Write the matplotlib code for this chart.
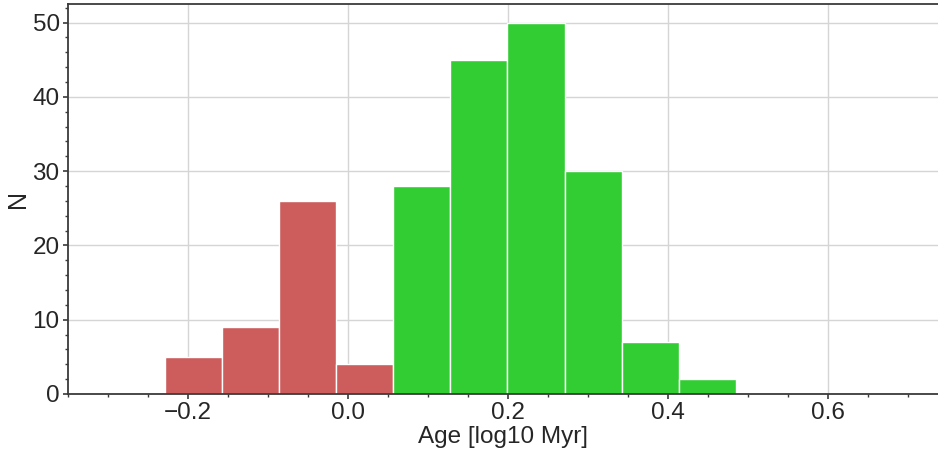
import numpy as np
import matplotlib
matplotlib.use("Agg")
import matplotlib.pyplot as plt
from matplotlib.ticker import MultipleLocator

plt.rcParams['font.family'] = ['Liberation Sans', 'DejaVu Sans']

# Histogram bin edges (log10 Myr) and counts per bin
bin_edges = [-0.229, -0.158, -0.086, -0.015, 0.056, 0.128, 0.199, 0.271, 0.342, 0.414, 0.485]
young_counts = [5, 9, 26, 4]          # first four bins
old_counts = [28, 45, 50, 30, 7, 2]    # remaining six bins

edges = np.array(bin_edges)
widths = np.diff(edges)
n_young = len(young_counts)

fig = plt.figure(figsize=(9.38, 4.51), dpi=100)
ax = fig.add_axes([0.0725, 0.1264, 0.9275, 0.8646])

ax.bar(edges[:n_young], young_counts, width=widths[:n_young], align='edge',
       color='indianred', edgecolor='white', linewidth=1.0, zorder=2)
ax.bar(edges[n_young:-1], old_counts, width=widths[n_young:], align='edge',
       color='limegreen', edgecolor='white', linewidth=1.0, zorder=2)

ax.set_xlim(-0.35, 0.7375)
ax.set_ylim(0, 52.5)

ax.xaxis.set_major_locator(MultipleLocator(0.2))
ax.xaxis.set_minor_locator(MultipleLocator(0.05))
ax.yaxis.set_major_locator(MultipleLocator(10))
ax.yaxis.set_minor_locator(MultipleLocator(2))

ax.grid(True, which='major', color='#d5d5d5', linewidth=1.0, zorder=0)
ax.set_axisbelow(True)

for side in ['left', 'bottom', 'top']:
    ax.spines[side].set_color('#3a3a3a')
    ax.spines[side].set_linewidth(1.3)
ax.spines['right'].set_visible(False)

ax.tick_params(which='major', direction='out', length=3.5, width=1.2, pad=2.5,
               color='#3a3a3a', labelsize=17.5, labelcolor='#262626')
ax.tick_params(which='minor', direction='out', length=2.2, width=1.0, color='#3a3a3a')

def fmt(v, pos):
    s = f"{v:.1f}"
    return s.replace('-', '\u2212')

ax.xaxis.set_major_formatter(plt.FuncFormatter(fmt))

ax.set_xlabel('Age [log10 Myr]', fontsize=17.5, color='#262626', labelpad=1)
ax.set_ylabel('N', fontsize=18, color='#262626', labelpad=2)

fig.savefig('out.png', dpi=100)
